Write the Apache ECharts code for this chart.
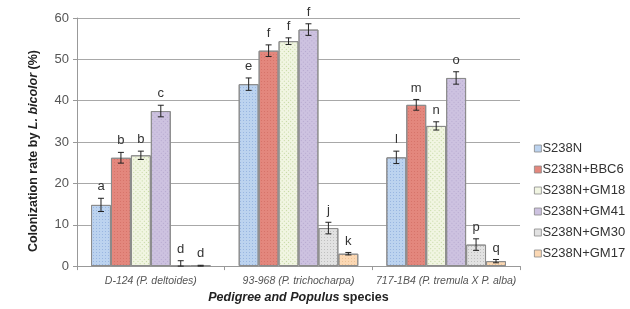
<!DOCTYPE html>
<html>
<head>
<meta charset="utf-8">
<script src="https://cdn.jsdelivr.net/npm/echarts@6/dist/echarts.min.js"></script>
<style>
  html, body { margin: 0; padding: 0; background: #fff; }
  #chart { width: 630px; height: 309px; }
</style>
</head>
<body>
<div id="chart"></div>
<script>
// pedigrees on the x axis
var categories = ['D-124 (P. deltoides)', '93-968 (P. trichocharpa)', '717-1B4 (P. tremula X P. alba)'];
var seriesNames = ['S238N', 'S238N+BBC6', 'S238N+GM18', 'S238N+GM41', 'S238N+GM30', 'S238N+GM17'];

// colonization rate (%) per treatment, one value per pedigree
var s238n = [14.8, 44.0, 26.3];
var bbc6 = [26.2, 52.1, 39.0];
var gm18 = [26.8, 54.4, 33.9];
var gm41 = [37.5, 57.2, 45.5];
var gm30 = [0.0, 9.2, 5.2];
var gm17 = [0.1, 3.0, 1.2];

// standard errors
var errS238n = [1.6, 1.5, 1.5];
var errBbc6 = [1.3, 1.4, 1.3];
var errGm18 = [1.0, 0.8, 1.0];
var errGm41 = [1.4, 1.4, 1.5];
var errGm30 = [1.3, 1.4, 1.4];
var errGm17 = [0.1, 0.3, 0.4];

// significance letters
var letters = [
  ['a', 'e', 'l'],
  ['b', 'f', 'm'],
  ['b', 'f', 'n'],
  ['c', 'f', 'o'],
  ['d', 'j', 'p'],
  ['d', 'k', 'q']
];

var values = [s238n, bbc6, gm18, gm41, gm30, gm17];
var errors = [errS238n, errBbc6, errGm18, errGm41, errGm30, errGm17];

var colors = ['#bcd3ef', '#e3877d', '#f1f5e2', '#cdc2e0', '#e2e2e2', '#fbd8b4'];
var decals = [
  { symbol: 'rect', symbolSize: 1, dashArrayX: [1, 2], dashArrayY: [1, 2], color: 'rgba(90,130,200,0.35)' },
  { symbol: 'rect', symbolSize: 1, dashArrayX: [1, 2], dashArrayY: [1, 2], color: 'rgba(180,60,50,0.25)' },
  { symbol: 'rect', symbolSize: 1, dashArrayX: [1, 2], dashArrayY: [1, 2], rotation: 0.785, color: 'rgba(140,180,80,0.45)' },
  { symbol: 'rect', symbolSize: 1, dashArrayX: [1, 2], dashArrayY: [1, 2], rotation: 0.785, color: 'rgba(130,110,170,0.3)' },
  { symbol: 'rect', symbolSize: 1, dashArrayX: [1, 2], dashArrayY: [1, 2], color: 'rgba(110,110,110,0.3)' },
  { symbol: 'rect', symbolSize: 1, dashArrayX: [1, 2], dashArrayY: [1, 2], color: 'rgba(200,140,80,0.3)' }
];

var gapPct = 0.19;
var nSeries = seriesNames.length;

var series = [];
seriesNames.forEach(function (name, i) {
  series.push({
    name: name,
    type: 'bar',
    data: values[i],
    barGap: '0%',
    barCategoryGap: (gapPct * 100) + '%',
    itemStyle: {
      color: colors[i],
      borderColor: '#8c8c8c',
      borderWidth: 1,
      decal: decals[i]
    }
  });
});

// error bars + letters
var errData = [];
for (var i = 0; i < nSeries; i++) {
  for (var c = 0; c < categories.length; c++) {
    errData.push([c, values[i][c], errors[i][c], i, letters[i][c]]);
  }
}

series.push({
  type: 'custom',
  name: 'err',
  data: errData,
  z: 10,
  silent: true,
  encode: { x: 0, y: 1 },
  renderItem: function (params, api) {
    var c = api.value(0);
    var v = api.value(1);
    var e = api.value(2);
    var si = api.value(3);
    var band = api.size([1, 0])[0];
    var bw = band * (1 - gapPct) / nSeries;
    var center = api.coord([c, v]);
    var x = center[0] - band * (1 - gapPct) / 2 + (si + 0.5) * bw;
    var lo = Math.max(0, v - e);
    var hi = v + e;
    var yTop = api.coord([c, hi])[1];
    var yBot = api.coord([c, lo])[1];
    var half = 3;
    var style = { stroke: '#222', lineWidth: 1 };
    return {
      type: 'group',
      children: [
        { type: 'line', shape: { x1: x, y1: yTop, x2: x, y2: yBot }, style: style },
        { type: 'line', shape: { x1: x - half, y1: yTop, x2: x + half, y2: yTop }, style: style },
        { type: 'line', shape: { x1: x - half, y1: yBot, x2: x + half, y2: yBot }, style: style },
        {
          type: 'text',
          style: {
            text: api.value(4),
            x: x,
            y: yTop - 5,
            align: 'center',
            verticalAlign: 'bottom',
            fill: '#333',
            font: '13px "Liberation Sans", Arial, sans-serif'
          }
        }
      ]
    };
  }
});

var chart = echarts.init(document.getElementById('chart'));
chart.setOption({
  animation: false,
  textStyle: { fontFamily: '"Liberation Sans", Arial, sans-serif' },
  grid: { left: 77, right: 110, top: 18, bottom: 36 },
  legend: {
    data: seriesNames,
    orient: 'vertical',
    left: 529,
    top: 137,
    itemWidth: 7,
    itemHeight: 7,
    itemGap: 8,
    icon: 'rect',
    textStyle: { fontSize: 13, color: '#333', padding: [0, 0, 0, -4] },
    itemStyle: { borderColor: '#888', borderWidth: 0.8, decal: 'none' }
  },
  xAxis: {
    type: 'category',
    data: categories,
    axisLine: { lineStyle: { color: '#999' } },
    axisTick: { show: true, length: 4, lineStyle: { color: '#999' } },
    axisLabel: { interval: 0, fontSize: 10.5, color: '#555', fontStyle: 'italic', margin: 9 },
    name: '{bi|Pedigree and Populus} {b|species}',
    nameLocation: 'middle',
    nameGap: 20,
    nameTextStyle: {
      rich: {
        bi: { fontSize: 12.5, fontWeight: 'bold', fontStyle: 'italic', color: '#222' },
        b: { fontSize: 12.5, fontWeight: 'bold', color: '#222' }
      }
    }
  },
  yAxis: {
    type: 'value',
    min: 0,
    max: 60,
    interval: 10,
    axisLine: { show: true, lineStyle: { color: '#999' } },
    axisTick: { show: true, length: 4, lineStyle: { color: '#999' } },
    splitLine: { lineStyle: { color: '#a8a8a8' } },
    axisLabel: { fontSize: 13, color: '#555', margin: 8 },
    name: '{b|Colonization rate by }{bi|L. bicolor}{b| (%)}',
    nameLocation: 'middle',
    nameGap: 37,
    nameRotate: 90,
    nameTextStyle: {
      padding: [0, 18, 0, 0],
      rich: {
        bi: { fontSize: 12.5, fontWeight: 'bold', fontStyle: 'italic', color: '#222' },
        b: { fontSize: 12.5, fontWeight: 'bold', color: '#222' }
      }
    }
  },
  series: series
});
</script>
</body>
</html>
